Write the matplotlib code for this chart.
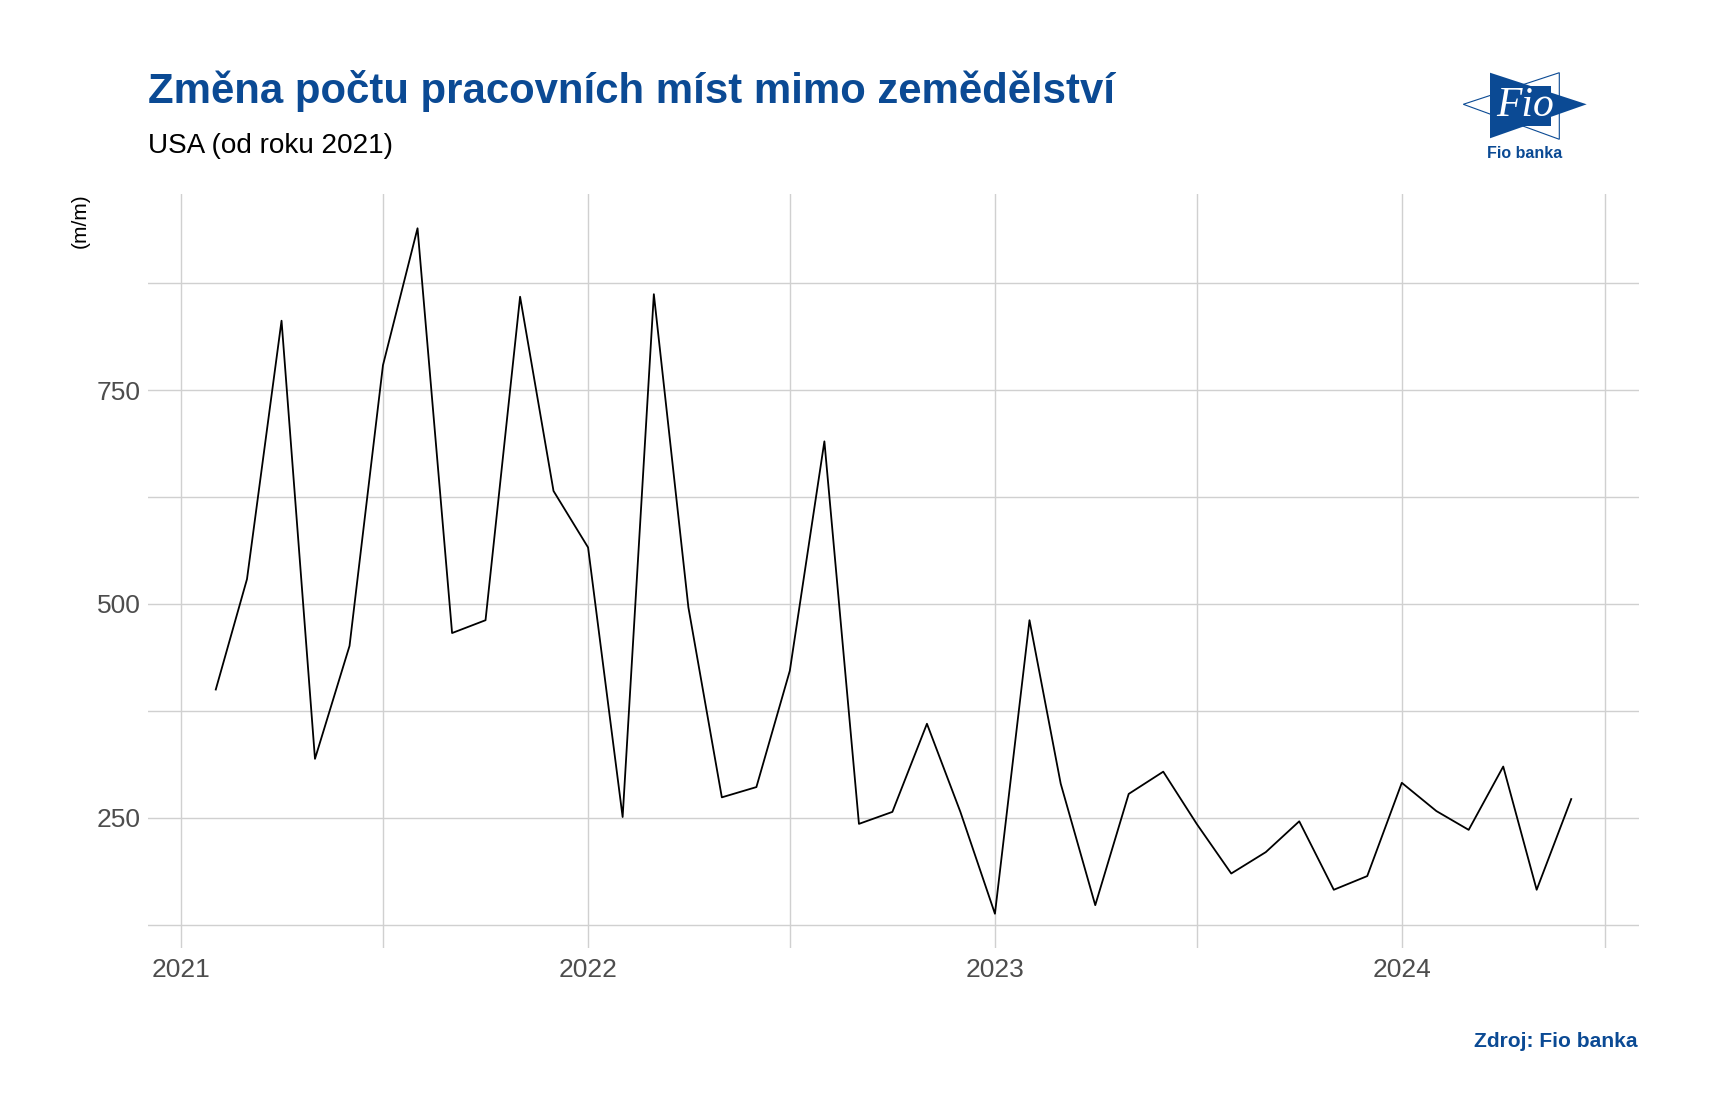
import numpy as np
import pandas as pd
import matplotlib
matplotlib.use('Agg')
import matplotlib.pyplot as plt
import matplotlib.dates as mdates
from matplotlib.patches import Polygon
from matplotlib.ticker import FixedLocator

plt.rcParams['font.family'] = ['Liberation Sans', 'DejaVu Sans']

# data: monthly change of nonfarm payrolls (thousands)
months = pd.date_range('2021-02-01', '2024-06-01', freq='MS')
values = [400, 529, 831, 319, 451, 779, 939, 466, 481, 859,
          632, 566, 251, 862, 496, 274, 286, 422, 690, 243,
          257, 360, 257, 138, 481, 290, 148, 278, 304, 243,
          185, 210, 246, 166, 182, 291, 258, 236, 310, 166,
          272]

title = 'Změna počtu pracovních míst mimo zemědělství'
subtitle = 'USA (od roku 2021)'
y_label = '(m/m)'
source = 'Zdroj: Fio banka'

y_major = [250, 500, 750]
y_minor = [125, 375, 625, 875]
x_major = pd.to_datetime(['2021-01-01', '2022-01-01', '2023-01-01', '2024-01-01'])
x_minor = pd.to_datetime(['2021-07-01', '2022-07-01', '2023-07-01', '2024-07-01'])

blue = '#0b4a94'
grid_col = '#d0d0d0'
W, H = 1709, 1120

fig = plt.figure(figsize=(W / 100, H / 100), dpi=100)
ax = fig.add_axes([148 / W, 1 - 948 / H, (1639 - 148) / W, (948 - 194) / H])

ax.plot(months, values, color='black', lw=1.3)
ax.margins(x=0.05, y=0.05)

ax.yaxis.set_major_locator(FixedLocator(y_major))
ax.yaxis.set_minor_locator(FixedLocator(y_minor))
ax.xaxis.set_major_locator(FixedLocator(mdates.date2num(x_major)))
ax.xaxis.set_minor_locator(FixedLocator(mdates.date2num(x_minor)))
ax.xaxis.set_major_formatter(mdates.DateFormatter('%Y'))

ax.grid(True, which='both', color=grid_col, lw=1.0)
ax.set_axisbelow(True)
for s in ax.spines.values():
    s.set_visible(False)
ax.tick_params(which='both', length=0)
ax.tick_params(axis='y', labelsize=19, labelcolor='#4d4d4d', pad=5)
ax.tick_params(axis='x', labelsize=19, labelcolor='#4d4d4d', pad=7)

# texts
fig.text(148 / W, 1 - 103 / H, title, fontsize=30.2, fontweight='bold', color=blue, va='baseline')
fig.text(148 / W, 1 - 153 / H, subtitle, fontsize=20.1, color='black', va='baseline')
fig.text(80 / W, 1 - 193 / H, y_label, fontsize=15, rotation=90, ha='center', va='top')
fig.text(1638 / W, 1 - 1047 / H, source, fontsize=15.1, fontweight='bold', color=blue,
         ha='right', va='baseline')

# logo
lax = fig.add_axes([0, 0, 1, 1])
lax.set_xlim(0, W)
lax.set_ylim(H, 0)
lax.axis('off')
lax.add_patch(Polygon([(1490, 72.7), (1490, 138.3), (1586.7, 104.3)], closed=True,
                      facecolor=blue, edgecolor='none'))
lax.add_patch(Polygon([(1559.3, 72.7), (1559.3, 139.3), (1463.3, 104.3)], closed=True,
                      facecolor='none', edgecolor=blue, lw=0.8))
lax.add_patch(Polygon([(1498, 86), (1551, 86), (1551, 126), (1498, 126)], closed=True,
                      facecolor=blue, edgecolor='none'))
lax.text(1525, 106, 'Fio', fontsize=30, family='Liberation Serif', style='italic',
         color='white', ha='center', va='center')
lax.text(1525, 153, 'Fio banka', fontsize=11.5, fontweight='bold', color=blue,
         ha='center', va='center')

fig.savefig('out.png', dpi=100)
